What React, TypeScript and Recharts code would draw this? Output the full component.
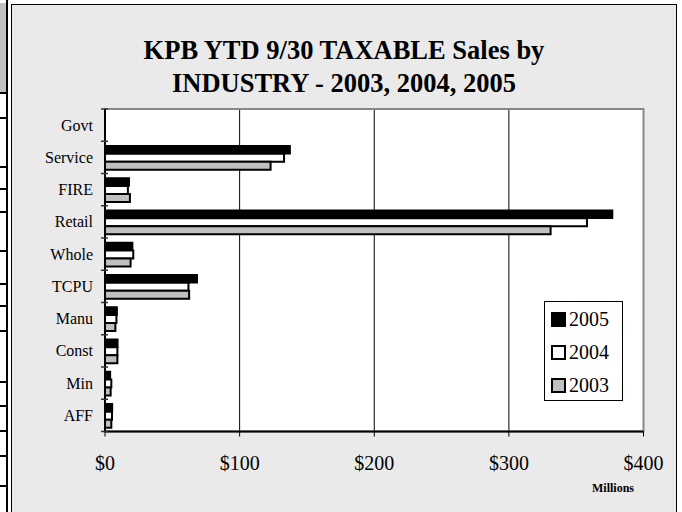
import { Bar, BarChart, CartesianGrid, ReferenceArea, XAxis, YAxis } from "recharts";

const industries = ["Govt", "Service", "FIRE", "Retail", "Whole", "TCPU", "Manu", "Const", "Min", "AFF"];
const sales2005 = [0, 137.5, 18, 377, 20.5, 68.5, 9, 9.5, 4, 5.5];
const sales2004 = [0, 133, 17, 358, 21, 62, 8.5, 9.2, 4.7, 5.2];
const sales2003 = [0, 123, 18.5, 331, 19, 62.5, 7.7, 9.2, 4.2, 4.7];
const xTicks = [0, 100, 200, 300, 400];
const legendItems = [
  { label: "2005", fill: "#000" },
  { label: "2004", fill: "#fff" },
  { label: "2003", fill: "#c0c0c0" },
];

const serif = "'Liberation Serif', 'Times New Roman', serif";

// spreadsheet cell borders peeking in at the left edge
const cellLines = [92, 117, 166, 188, 211, 250, 283, 305, 330, 381, 405, 430, 455, 485];

const rows = industries.map((name, i) => ({
  name,
  y2005: sales2005[i],
  y2004: sales2004[i],
  y2003: sales2003[i],
}));

function CategoryTick(props: any) {
  const { x, y, payload, index } = props;
  const half = payload?.offset ?? 16;
  return (
    <g>
      <line x1={x + 4} x2={x + 11} y1={y - half} y2={y - half} stroke="#333" strokeWidth={1.5} />
      {index === industries.length - 1 && (
        <line x1={x + 4} x2={x + 11} y1={y + half} y2={y + half} stroke="#333" strokeWidth={1.5} />
      )}
      <text x={x - 4} y={y} dy="0.35em" textAnchor="end" fontFamily={serif} fontSize={16} fill="#000">
        {payload.value}
      </text>
    </g>
  );
}

function MoneyTick(props: any) {
  const { x, y, payload } = props;
  return (
    <text x={x} y={y + 17} dy="0.71em" textAnchor="middle" fontFamily={serif} fontSize={20} fill="#000">
      ${payload.value}
    </text>
  );
}

function LegendBox() {
  return (
    <div
      style={{
        position: "absolute",
        left: 544,
        top: 301,
        width: 79,
        height: 100,
        border: "1px solid #000",
        background: "#fff",
        boxSizing: "border-box",
        padding: "1px 0 0 6px",
        fontFamily: serif,
        fontSize: 20,
      }}
    >
      {legendItems.map((it) => (
        <div key={it.label} style={{ display: "flex", alignItems: "center", height: 33 }}>
          <span
            style={{
              width: 11,
              height: 11,
              background: it.fill,
              border: "2px solid #000",
              marginRight: 3,
              display: "inline-block",
            }}
          />
          <span>{it.label}</span>
        </div>
      ))}
    </div>
  );
}

export default function App() {
  return (
    <div style={{ position: "fixed", left: 0, top: 0, width: 682, height: 512, background: "#fff", overflow: "hidden" }}>
      <div style={{ position: "absolute", left: 0, top: 3, width: 6, height: 89, background: "#c0c0c0" }} />
      <div style={{ position: "absolute", left: 6, top: 0, width: 2, height: 512, background: "#000" }} />
      {cellLines.map((t) => (
        <div key={t} style={{ position: "absolute", left: 0, top: t, width: 7, height: 2, background: "#000" }} />
      ))}
      <div
        style={{
          position: "absolute",
          left: 11,
          top: 4,
          width: 666,
          height: 520,
          background: "#eaeaea",
          border: "1px solid #000",
          boxSizing: "border-box",
        }}
      />
      <div
        style={{
          position: "absolute",
          left: 11,
          top: 34,
          width: 666,
          textAlign: "center",
          fontFamily: serif,
          fontWeight: "bold",
          fontSize: 26.5,
          lineHeight: "33px",
        }}
      >
        KPB YTD 9/30 TAXABLE Sales by
        <br />
        INDUSTRY - 2003, 2004, 2005
      </div>
      <div
        style={{
          position: "absolute",
          left: 592,
          top: 481,
          fontFamily: serif,
          fontWeight: "bold",
          fontSize: 12,
        }}
      >
        Millions
      </div>
      <div style={{ position: "absolute", left: 0, top: 0 }}>
        <BarChart
          width={682}
          height={512}
          data={rows}
          layout="vertical"
          margin={{ top: 109, right: 38.5, left: 15, bottom: 40.5 }}
          barCategoryGap="14%"
          barGap={0}
        >
          <CartesianGrid horizontal={false} stroke="#000" strokeWidth={1} fill="#fff" fillOpacity={1} />
          <ReferenceArea x1={0} x2={400} fill="none" stroke="#888" strokeWidth={2} />
          <XAxis
            type="number"
            domain={[0, 400]}
            ticks={xTicks}
            interval={0}
            tick={<MoneyTick />}
            axisLine={{ stroke: "#000", strokeWidth: 2 }}
            tickLine={{ stroke: "#000" }}
            tickSize={5}
            height={40}
          />
          <YAxis
            type="category"
            dataKey="name"
            width={90}
            tick={<CategoryTick />}
            tickLine={false}
            axisLine={{ stroke: "#000", strokeWidth: 2 }}
            interval={0}
          />
          <Bar dataKey="y2005" name="2005" fill="#000" stroke="#000" strokeWidth={1.5} isAnimationActive={false} />
          <Bar dataKey="y2004" name="2004" fill="#fff" stroke="#000" strokeWidth={2} isAnimationActive={false} />
          <Bar dataKey="y2003" name="2003" fill="#c0c0c0" stroke="#000" strokeWidth={2} isAnimationActive={false} />
        </BarChart>
      </div>
      <LegendBox />
    </div>
  );
}
